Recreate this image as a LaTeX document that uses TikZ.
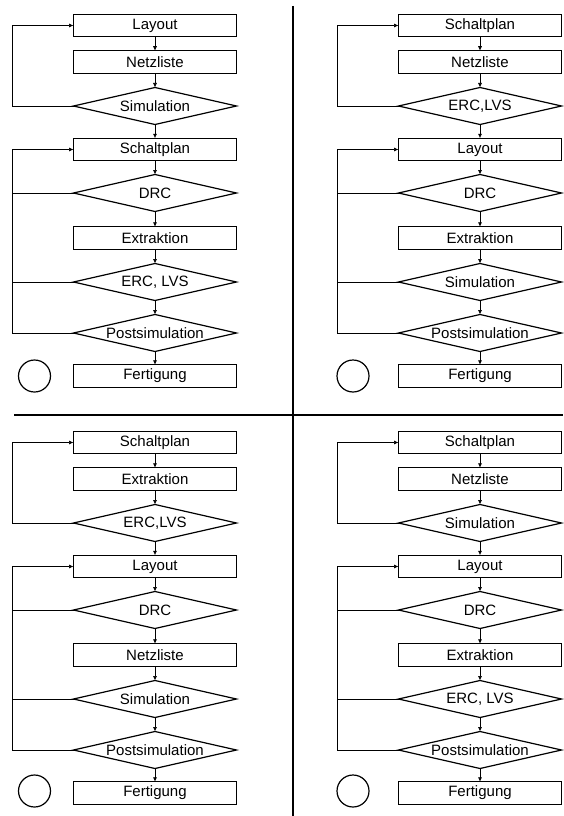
\documentclass[tikz,border=0pt]{standalone}
\usepackage{fontspec}
\setmainfont{Liberation Sans}
\usetikzlibrary{shapes.geometric}
\usetikzlibrary{arrows.meta}

\tikzset{
  schritt/.style={draw,rectangle,minimum width=163pt,minimum height=22.5pt,
    inner sep=0pt,outer sep=0pt,line width=1.2pt,
    font=\fontsize{15}{16}\selectfont},
  pruefung/.style={draw,diamond,aspect=4.4,minimum width=163pt,minimum height=37pt,
    inner sep=0pt,outer sep=0pt,line width=1.2pt,
    font=\fontsize{15}{16}\selectfont},
  ende/.style={draw,circle,minimum size=32pt,inner sep=0pt,line width=1.2pt},
  fluss/.style={-{Latex[length=4.5pt,width=4pt]},line width=.7pt},
  ruecklauf/.style={line width=.7pt},
  trenner/.style={line width=2pt}
}

\begin{document}
\begin{tikzpicture}[x=1pt,y=-1pt]
        \useasboundingbox (0,0) rectangle (563,816);
        % Trennlinien
        \draw[trenner] (293,6) -- (293,816);
        \draw[trenner] (14,415) -- (563,415);
        % oben links
        \begin{scope}
          \node[schritt]  (aLayout)  at (155,25.5)  {Layout};
          \node[schritt]  (aNetz)    at (155,62)    {Netzliste};
          \node[pruefung] (aSim)     at (155,106)   {Simulation};
          \node[schritt]  (aSchalt)  at (155,149.5) {Schaltplan};
          \node[pruefung] (aDrc)     at (155,193)   {DRC};
          \node[schritt]  (aExtr)    at (155,238)   {Extraktion};
          \node[pruefung] (aErc)     at (155,282)   {ERC, LVS};
          \node[pruefung] (aPost)    at (155,333)   {Postsimulation};
          \node[schritt]  (aFert)    at (155,376)   {Fertigung};
          \node[ende]     (aKreis)   at (34.5,376)  {};
          \draw[fluss] (aLayout) -- (aNetz);
          \draw[fluss] (aNetz) -- (aSim);
          \draw[fluss] (aSim) -- (aSchalt);
          \draw[fluss] (aSchalt) -- (aDrc);
          \draw[fluss] (aDrc) -- (aExtr);
          \draw[fluss] (aExtr) -- (aErc);
          \draw[fluss] (aErc) -- (aPost);
          \draw[fluss] (aPost) -- (aFert);
          \draw[fluss] (aSim.west) -- ++(-61,0) |- (aLayout.west);
          \draw[ruecklauf] (aDrc.west) -- ++(-61,0);
          \draw[ruecklauf] (aErc.west) -- ++(-61,0);
          \draw[fluss] (aPost.west) -- ++(-61,0) |- (aSchalt.west);
        \end{scope}
        % oben rechts
        \begin{scope}
          \node[schritt]  (bSchalt)  at (480,25.5)  {Schaltplan};
          \node[schritt]  (bNetz)    at (480,62)    {Netzliste};
          \node[pruefung] (bErc)     at (480,106)   {ERC,LVS};
          \node[schritt]  (bLayout)  at (480,149.5) {Layout};
          \node[pruefung] (bDrc)     at (480,193)   {DRC};
          \node[schritt]  (bExtr)    at (480,238)   {Extraktion};
          \node[pruefung] (bSim)     at (480,282)   {Simulation};
          \node[pruefung] (bPost)    at (480,333)   {Postsimulation};
          \node[schritt]  (bFert)    at (480,376)   {Fertigung};
          \node[ende]     (bKreis)   at (353,376)   {};
          \draw[fluss] (bSchalt) -- (bNetz);
          \draw[fluss] (bNetz) -- (bErc);
          \draw[fluss] (bErc) -- (bLayout);
          \draw[fluss] (bLayout) -- (bDrc);
          \draw[fluss] (bDrc) -- (bExtr);
          \draw[fluss] (bExtr) -- (bSim);
          \draw[fluss] (bSim) -- (bPost);
          \draw[fluss] (bPost) -- (bFert);
          \draw[fluss] (bErc.west) -- ++(-61,0) |- (bSchalt.west);
          \draw[ruecklauf] (bDrc.west) -- ++(-61,0);
          \draw[ruecklauf] (bSim.west) -- ++(-61,0);
          \draw[fluss] (bPost.west) -- ++(-61,0) |- (bLayout.west);
        \end{scope}
        % unten links
        \begin{scope}[yshift=-417pt]
          \node[schritt]  (cSchalt)  at (155,25.5)  {Schaltplan};
          \node[schritt]  (cExtr)    at (155,62)    {Extraktion};
          \node[pruefung] (cErc)     at (155,106)   {ERC,LVS};
          \node[schritt]  (cLayout)  at (155,149.5) {Layout};
          \node[pruefung] (cDrc)     at (155,193)   {DRC};
          \node[schritt]  (cNetz)    at (155,238)   {Netzliste};
          \node[pruefung] (cSim)     at (155,282)   {Simulation};
          \node[pruefung] (cPost)    at (155,333)   {Postsimulation};
          \node[schritt]  (cFert)    at (155,376)   {Fertigung};
          \node[ende]     (cKreis)   at (34.5,374)  {};
          \draw[fluss] (cSchalt) -- (cExtr);
          \draw[fluss] (cExtr) -- (cErc);
          \draw[fluss] (cErc) -- (cLayout);
          \draw[fluss] (cLayout) -- (cDrc);
          \draw[fluss] (cDrc) -- (cNetz);
          \draw[fluss] (cNetz) -- (cSim);
          \draw[fluss] (cSim) -- (cPost);
          \draw[fluss] (cPost) -- (cFert);
          \draw[fluss] (cErc.west) -- ++(-61,0) |- (cSchalt.west);
          \draw[ruecklauf] (cDrc.west) -- ++(-61,0);
          \draw[ruecklauf] (cSim.west) -- ++(-61,0);
          \draw[fluss] (cPost.west) -- ++(-61,0) |- (cLayout.west);
        \end{scope}
        % unten rechts
        \begin{scope}[yshift=-417pt]
          \node[schritt]  (dSchalt)  at (480,25.5)  {Schaltplan};
          \node[schritt]  (dNetz)    at (480,62)    {Netzliste};
          \node[pruefung] (dSim)     at (480,106)   {Simulation};
          \node[schritt]  (dLayout)  at (480,149.5) {Layout};
          \node[pruefung] (dDrc)     at (480,193)   {DRC};
          \node[schritt]  (dExtr)    at (480,238)   {Extraktion};
          \node[pruefung] (dErc)     at (480,282)   {ERC, LVS};
          \node[pruefung] (dPost)    at (480,333)   {Postsimulation};
          \node[schritt]  (dFert)    at (480,376)   {Fertigung};
          \node[ende]     (dKreis)   at (353,374)   {};
          \draw[fluss] (dSchalt) -- (dNetz);
          \draw[fluss] (dNetz) -- (dSim);
          \draw[fluss] (dSim) -- (dLayout);
          \draw[fluss] (dLayout) -- (dDrc);
          \draw[fluss] (dDrc) -- (dExtr);
          \draw[fluss] (dExtr) -- (dErc);
          \draw[fluss] (dErc) -- (dPost);
          \draw[fluss] (dPost) -- (dFert);
          \draw[fluss] (dSim.west) -- ++(-61,0) |- (dSchalt.west);
          \draw[ruecklauf] (dDrc.west) -- ++(-61,0);
          \draw[ruecklauf] (dErc.west) -- ++(-61,0);
          \draw[fluss] (dPost.west) -- ++(-61,0) |- (dLayout.west);
        \end{scope}
      \end{tikzpicture}
\end{document}
